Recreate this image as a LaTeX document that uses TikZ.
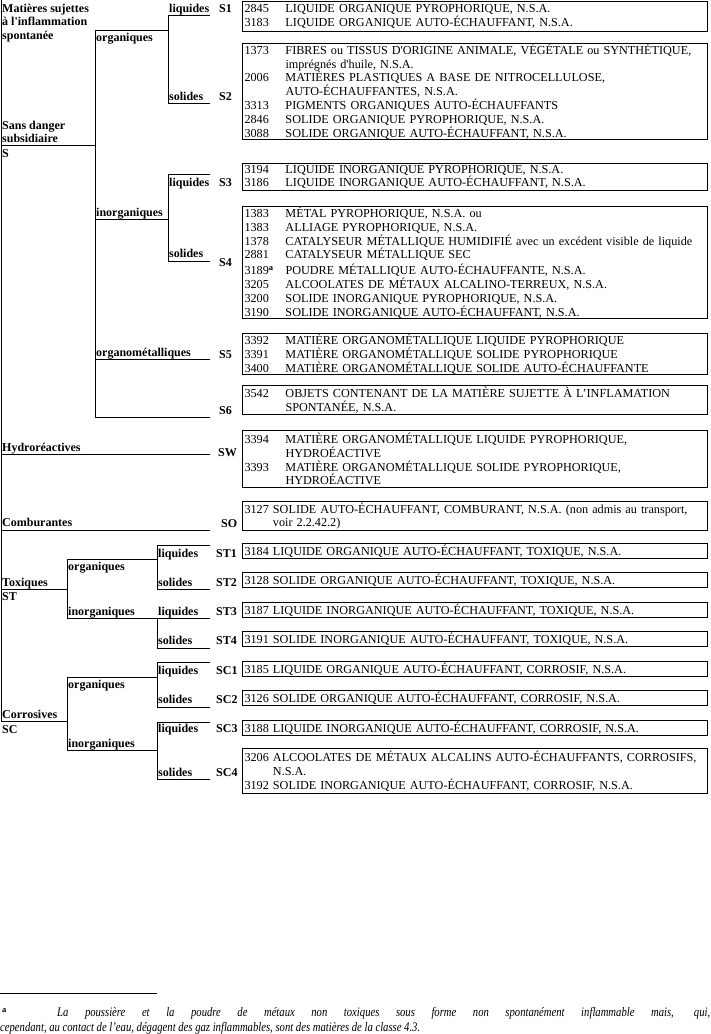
\documentclass[tikz,border=0pt]{standalone}
\usepackage{fontspec}
\setmainfont{Liberation Serif}
\newfontfamily\fnfont{Liberation Serif}[FakeStretch=0.82]
\newcommand{\sq}{\textquotesingle}
\newcommand{\nb}[1]{\makebox[41pt][l]{#1}}
\begin{document}
\begin{tikzpicture}[x=1pt,y=-1pt,
  tl/.style={line width=1pt},
  lab/.style={font=\fontsize{12}{13.8}\selectfont\bfseries, inner sep=0pt, anchor=base west},
  ubox/.style={draw, line width=1pt, anchor=north west, inner xsep=2pt, inner ysep=0pt,
    text width=461pt, align=left, font=\fontsize{12.2}{13.8}\selectfont}]
\useasboundingbox (0,0) rectangle (710,1034);
% ---------------- tree lines ----------------
\coordinate (top) at (1,0);
\coordinate (bot) at (1,721);
\draw[tl] (top) -- (bot);
% S
\draw[tl] (1,145) -- (95,145);
\draw[tl] (95,30) -- (95,417);
\draw[tl] (95,30) -- (168,30);
\draw[tl] (210,15) -- (168,15) -- (168,103) -- (210,103);
\draw[tl] (95,219) -- (168,219);
\draw[tl] (210,174) -- (168,174) -- (168,261) -- (210,261);
\draw[tl] (95,359) -- (210,359);
\draw[tl] (95,417) -- (210,417);
% SW, SO
\draw[tl] (1,454) -- (210,454);
\draw[tl] (1,530) -- (210,530);
% ST
\draw[tl] (1,589) -- (67,589);
\draw[tl] (67,559) -- (67,618);
\draw[tl] (67,559) -- (157,559);
\draw[tl] (210,545) -- (157,545) -- (157,589) -- (210,589);
\draw[tl] (67,618) -- (210,618);
\draw[tl] (157,618) -- (157,648) -- (210,648);
% SC
\draw[tl] (1,721) -- (67,721);
\draw[tl] (67,677) -- (67,750);
\draw[tl] (67,677) -- (157,677);
\draw[tl] (210,662) -- (157,662) -- (157,707) -- (210,707);
\draw[tl] (67,750) -- (157,750);
\draw[tl] (210,722) -- (157,722) -- (157,779) -- (210,779);
% ---------------- labels ----------------
\node[lab] (m1) at (2,12) {Matières sujettes};
\node[lab] (m2) at (2,25.8) {à l\sq inflammation};
\node[lab] (m3) at (2,39.6) {spontanée};
\node[lab] (sd1) at (2,129) {Sans danger};
\node[lab] (sd2) at (2,142) {subsidiaire};
\node[lab] (sS) at (2,157) {S};
\node[lab] (o1) at (96,41) {organiques};
\node[lab] (l1) at (169,12) {liquides};
\node[lab] (s1) at (169,100) {solides};
\node[lab] (i1) at (96,216) {inorganiques};
\node[lab] (l2) at (169,186) {liquides};
\node[lab] (s2) at (169,257) {solides};
\node[lab] (om) at (96,356) {organométalliques};
\node[lab] (hy) at (2,451) {Hydroréactives};
\node[lab] (co) at (2,526) {Comburantes};
\node[lab] (tx) at (2,586) {Toxiques};
\node[lab] (tST) at (2,600) {ST};
\node[lab] (o2) at (68,570) {organiques};
\node[lab] (l3) at (158,557) {liquides};
\node[lab] (s3) at (158,586) {solides};
\node[lab] (i2) at (68,615) {inorganiques};
\node[lab] (l4) at (158,615) {liquides};
\node[lab] (s4) at (158,644) {solides};
\node[lab] (cr) at (2,718) {Corrosives};
\node[lab] (tSC) at (2,733) {SC};
\node[lab] (o3) at (68,688) {organiques};
\node[lab] (l5) at (158,674) {liquides};
\node[lab] (s5) at (158,703) {solides};
\node[lab] (i3) at (68,747) {inorganiques};
\node[lab] (l6) at (158,732) {liquides};
\node[lab] (s6) at (158,776) {solides};
% codes
\node[lab] (cS1) at (219,12) {S1};
\node[lab] (cS2) at (219,100) {S2};
\node[lab] (cS3) at (219,186) {S3};
\node[lab] (cS4) at (219,266) {S4};
\node[lab] (cS5) at (219,358) {S5};
\node[lab] (cS6) at (219,414) {S6};
\node[lab] (cSW) at (218,456) {SW};
\node[lab] (cSO) at (221,527) {SO};
\node[lab] (cST1) at (216,557) {ST1};
\node[lab] (cST2) at (216,586) {ST2};
\node[lab] (cST3) at (216,615) {ST3};
\node[lab] (cST4) at (216,644) {ST4};
\node[lab] (cSC1) at (216,674) {SC1};
\node[lab] (cSC2) at (216,703) {SC2};
\node[lab] (cSC3) at (216,732) {SC3};
\node[lab] (cSC4) at (216,776) {SC4};
% ---------------- boxes ----------------
\node[ubox, minimum height=30pt] (b1) at (242,1) {%
\nb{2845}LIQUIDE ORGANIQUE PYROPHORIQUE, N.S.A.\\
\nb{3183}LIQUIDE ORGANIQUE AUTO-ÉCHAUFFANT, N.S.A.};
\node[ubox, minimum height=96pt] (b2) at (242,43) {%
\nb{1373}FIBRES ou TISSUS D\sq ORIGINE ANIMALE, VÉGÉTALE ou SYNTHÉTIQUE,\\
\nb{}imprégnés d\sq huile, N.S.A.\\
\nb{2006}MATIÈRES PLASTIQUES A BASE DE NITROCELLULOSE,\\
\nb{}AUTO-ÉCHAUFFANTES, N.S.A.\\
\nb{3313}PIGMENTS ORGANIQUES AUTO-ÉCHAUFFANTS\\
\nb{2846}SOLIDE ORGANIQUE PYROPHORIQUE, N.S.A.\\
\nb{3088}SOLIDE ORGANIQUE AUTO-ÉCHAUFFANT, N.S.A.};
\node[ubox, minimum height=27pt] (b3) at (242,163) {%
\nb{3194}LIQUIDE INORGANIQUE PYROPHORIQUE, N.S.A.\\
\nb{3186}LIQUIDE INORGANIQUE AUTO-ÉCHAUFFANT, N.S.A.};
\node[ubox, minimum height=112pt] (b4) at (242,206) {%
\nb{1383}MÉTAL PYROPHORIQUE, N.S.A. ou\\
\nb{1383}ALLIAGE PYROPHORIQUE, N.S.A.\\
\nb{1378}CATALYSEUR MÉTALLIQUE HUMIDIFIÉ avec un excédent visible de liquide\\
\nb{2881}CATALYSEUR MÉTALLIQUE SEC\\[2pt]
\nb{3189\textsuperscript{\bfseries a}}POUDRE MÉTALLIQUE AUTO-ÉCHAUFFANTE, N.S.A.\\
\nb{3205}ALCOOLATES DE MÉTAUX ALCALINO-TERREUX, N.S.A.\\
\nb{3200}SOLIDE INORGANIQUE PYROPHORIQUE, N.S.A.\\
\nb{3190}SOLIDE INORGANIQUE AUTO-ÉCHAUFFANT, N.S.A.};
\node[ubox, minimum height=41pt] (b5) at (242,333) {%
\nb{3392}MATIÈRE ORGANOMÉTALLIQUE LIQUIDE PYROPHORIQUE\\
\nb{3391}MATIÈRE ORGANOMÉTALLIQUE SOLIDE PYROPHORIQUE\\
\nb{3400}MATIÈRE ORGANOMÉTALLIQUE SOLIDE AUTO-ÉCHAUFFANTE};
\node[ubox, minimum height=29pt] (b6) at (242,385) {%
\nb{3542}OBJETS CONTENANT DE LA MATIÈRE SUJETTE À L’INFLAMATION\\
\nb{}SPONTANÉE, N.S.A.};
\node[ubox, minimum height=57pt] (b7) at (242,430) {%
\nb{3394}MATIÈRE ORGANOMÉTALLIQUE LIQUIDE PYROPHORIQUE,\\
\nb{}HYDROÉACTIVE\\
\nb{3393}MATIÈRE ORGANOMÉTALLIQUE SOLIDE PYROPHORIQUE,\\
\nb{}HYDROÉACTIVE};
\node[ubox, minimum height=29pt] (b8) at (242,501) {%
3127 SOLIDE AUTO-ÉCHAUFFANT, COMBURANT, N.S.A. (non admis au transport,\\
\phantom{3127 }voir 2.2.42.2)};
\node[ubox, minimum height=15pt] (b9) at (242,543) {3184 LIQUIDE ORGANIQUE AUTO-ÉCHAUFFANT, TOXIQUE, N.S.A.};
\node[ubox, minimum height=15pt] (b10) at (242,572) {3128 SOLIDE ORGANIQUE AUTO-ÉCHAUFFANT, TOXIQUE, N.S.A.};
\node[ubox, minimum height=15pt] (b11) at (242,602) {3187 LIQUIDE INORGANIQUE AUTO-ÉCHAUFFANT, TOXIQUE, N.S.A.};
\node[ubox, minimum height=15pt] (b12) at (242,631) {3191 SOLIDE INORGANIQUE AUTO-ÉCHAUFFANT, TOXIQUE, N.S.A.};
\node[ubox, minimum height=15pt] (b13) at (242,661) {3185 LIQUIDE ORGANIQUE AUTO-ÉCHAUFFANT, CORROSIF, N.S.A.};
\node[ubox, minimum height=15pt] (b14) at (242,690) {3126 SOLIDE ORGANIQUE AUTO-ÉCHAUFFANT, CORROSIF, N.S.A.};
\node[ubox, minimum height=15pt] (b15) at (242,720) {3188 LIQUIDE INORGANIQUE AUTO-ÉCHAUFFANT, CORROSIF, N.S.A.};
\node[ubox, minimum height=45pt] (b16) at (242,748) {%
3206 ALCOOLATES DE MÉTAUX ALCALINS AUTO-ÉCHAUFFANTS, CORROSIFS,\\
\phantom{3206 }N.S.A.\\
3192 SOLIDE INORGANIQUE AUTO-ÉCHAUFFANT, CORROSIF, N.S.A.};
% ---------------- footnote ----------------
\coordinate (fr0) at (0,993);
\coordinate (fr1) at (157,993);
\draw[line width=0.8pt] (fr0) -- (fr1);
\node[inner sep=0pt, anchor=base west, font=\fontsize{8.5}{8.5}\selectfont\bfseries] (fna) at (2,1012) {a};
\node[inner sep=0pt, anchor=base west, font=\fontsize{13}{14}\selectfont\fnfont\itshape] (fn1) at (57,1016)
  {\makebox[653pt][s]{La poussière et la poudre de métaux non toxiques sous forme non spontanément inflammable mais, qui,}};
\node[inner sep=0pt, anchor=base west, font=\fontsize{13}{14}\selectfont\fnfont\itshape] (fn2) at (0,1031)
  {cependant, au contact de l’eau, dégagent des gaz inflammables, sont des matières de la classe 4.3.};
\end{tikzpicture}
\end{document}
